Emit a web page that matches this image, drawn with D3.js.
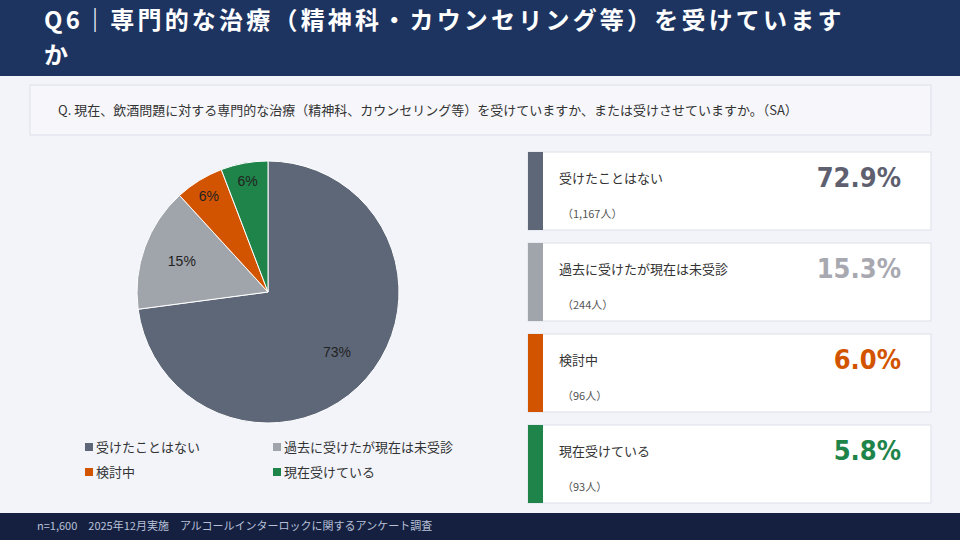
<!DOCTYPE html>
<html><head><meta charset="utf-8">
<script src="https://cdn.jsdelivr.net/npm/d3@7"></script>
<style>body{margin:0;background:#f2f4fa;}svg{display:block;font-family:"Noto Sans CJK JP",sans-serif;}</style>
</head><body><svg id="c" width="960" height="540"></svg>
<script>
const categories=["受けたことはない","過去に受けたが現在は未受診","検討中","現在受けている"];
const percents=[72.9,15.3,6.0,5.8];
const counts=["1,167","244","96","93"];
const pieLabels=["73%","15%","6%","6%"];
const colors=["#5e6778","#a0a4ab","#d35400","#1e8449"];
const pctColors=["#5e6070","#a8a8b0","#d35400","#1e8449"];

const svg=d3.select("#c");
svg.append("rect").attr("width",960).attr("height",540).attr("fill","#f2f4fa");
svg.append("rect").attr("width",960).attr("height",76).attr("fill","#1d3461");
svg.append("text").attr("x",44).attr("y",29).attr("fill","#fff").attr("font-size",24).attr("font-weight","bold").attr("letter-spacing",3.2).text("Q6｜専門的な治療（精神科・カウンセリング等）を受けています");
svg.append("text").attr("x",44).attr("y",64).attr("fill","#fff").attr("font-size",24).attr("font-weight","bold").text("か");
svg.append("rect").attr("x",30).attr("y",85).attr("width",901).attr("height",50).attr("fill","#f7f7fb").attr("stroke","#dcdfe8");
svg.append("text").attr("x",58).attr("y",115).attr("font-size",13).attr("fill","#333").text("Q. 現在、飲酒問題に対する専門的な治療（精神科、カウンセリング等）を受けていますか、または受けさせていますか。（SA）");

const pie=d3.pie().sort(null).value(d=>d)(percents);
const R=131,g=svg.append("g").attr("transform","translate(268,292)");
const arc=d3.arc().innerRadius(0).outerRadius(R);
g.selectAll("path").data(pie).join("path").attr("d",arc).attr("fill",(d,i)=>colors[i]).attr("stroke","#fff").attr("stroke-width",1);
const la=d3.arc().innerRadius(R*0.7).outerRadius(R*0.7);
const la2=d3.arc().innerRadius(R*0.86).outerRadius(R*0.86);
g.selectAll("text").data(pie).join("text").attr("transform",(d,i)=>`translate(${(i<2?la:la2).centroid(d)})`)
 .attr("text-anchor","middle").attr("dy","0.35em").attr("font-size",14).attr("font-family","Liberation Sans, Arial").attr("fill","#222").text((d,i)=>pieLabels[i]);

const leg=svg.append("g");
categories.forEach((c,i)=>{
  const x=85+(i%2)*188,y=452+Math.floor(i/2)*25;
  leg.append("rect").attr("x",x).attr("y",y-9).attr("width",8).attr("height",8).attr("fill",colors[i]);
  leg.append("text").attr("x",x+11).attr("y",y).attr("font-size",13).attr("fill","#333").text(c);
});

const cards=svg.append("g");
categories.forEach((c,i)=>{
  const y=152+i*91;
  cards.append("rect").attr("x",528).attr("y",y).attr("width",403).attr("height",78).attr("fill","#fff").attr("stroke","#dcdfe8");
  cards.append("rect").attr("x",528).attr("y",y).attr("width",15).attr("height",78).attr("fill",colors[i]);
  cards.append("text").attr("x",559).attr("y",y+31).attr("font-size",13).attr("fill","#333").text(c);
  cards.append("text").attr("x",562).attr("y",y+66).attr("font-size",11).attr("fill","#555").text(`（${counts[i]}人）`);
  cards.append("text").attr("x",901).attr("y",y+35).attr("text-anchor","end").attr("font-size",27).attr("font-weight","bold").attr("fill",pctColors[i])
   .attr("font-family","DejaVu Sans Condensed, Liberation Sans Narrow, sans-serif").text(percents[i].toFixed(1)+"%");
});

svg.append("rect").attr("y",513).attr("width",960).attr("height",27).attr("fill","#152040");
svg.append("text").attr("x",37).attr("y",530).attr("font-size",11).attr("fill","#b8c0d8").text("n=1,600　2025年12月実施　アルコールインターロックに関するアンケート調査");
</script></body></html>
